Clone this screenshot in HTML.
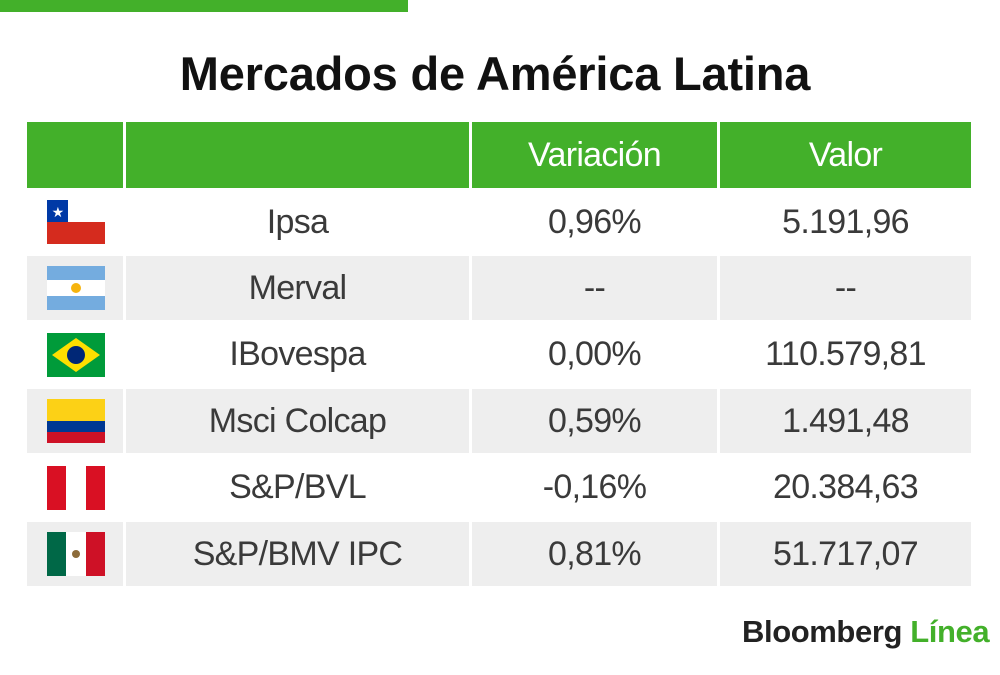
<!DOCTYPE html>
<html><head><meta charset="utf-8"><style>
body{margin:0;width:1000px;height:675px;background:#fff;position:relative;overflow:hidden;font-family:"Liberation Sans",sans-serif}
.a{position:absolute}
.c{position:absolute;display:flex;align-items:center;justify-content:center;font-size:34px;color:#3a3a3a;letter-spacing:-0.7px}
.h{background:#43b02a;color:#fff}
.g{background:#eeeeee}
</style></head><body>
<div class="a" style="left:0;top:0;width:408px;height:12px;background:#43b02a"></div>
<div class="a" style="left:0;width:990px;top:46px;text-align:center;font-size:47px;font-weight:bold;letter-spacing:-0.2px;color:#111">Mercados de América Latina</div>
<div id="t"></div>
<div class="a" style="left:742px;top:614px;font-size:31px;font-weight:bold;letter-spacing:-0.4px;color:#222">Bloomberg <span style="color:#43b02a">Línea</span></div>
<script>
const names=["Ipsa","Merval","IBovespa","Msci Colcap","S&P/BVL","S&P/BMV IPC"];
const variations=["0,96%","--","0,00%","0,59%","-0,16%","0,81%"];
const values=["5.191,96","--","110.579,81","1.491,48","20.384,63","51.717,07"];
const flags=[
'<rect width="58" height="44" fill="#d52b1e"/><rect width="58" height="22" fill="#fff"/><rect width="21" height="22" fill="#0039a6"/><text x="10.5" y="17" font-size="14" fill="#fff" text-anchor="middle">★</text>',
'<rect width="58" height="44" fill="#fff"/><rect width="58" height="14" fill="#74acdf"/><rect y="30" width="58" height="14" fill="#74acdf"/><circle cx="29" cy="22" r="5" fill="#f6b40e"/>',
'<rect width="58" height="44" fill="#009b3a"/><polygon points="29,5 53,22 29,39 5,22" fill="#fedf00"/><circle cx="29" cy="22" r="9" fill="#002776"/>',
'<rect width="58" height="44" fill="#ce1126"/><rect width="58" height="33" fill="#003893"/><rect width="58" height="22" fill="#fcd116"/>',
'<rect width="58" height="44" fill="#d91023"/><rect x="19" width="20" height="44" fill="#fff"/>',
'<rect width="58" height="44" fill="#ce1126"/><rect width="39" height="44" fill="#fff"/><rect width="19" height="44" fill="#006847"/><circle cx="29" cy="22" r="4" fill="#8c6b3a"/>'
];
const cols=[[27,96],[126,343],[472,245],[720,251]];
const t=document.getElementById('t');
function cell(x,y,w,h,cls,txt,name){const d=document.createElement('div');d.className='c '+cls;d.style.cssText=`left:${x}px;top:${y}px;width:${w}px;height:${h}px`;d.innerHTML=txt;


t.appendChild(d);}
cell(cols[0][0],122,cols[0][1],66,'h','','header-flag');
cell(cols[1][0],122,cols[1][1],66,'h','','header-index');
cell(cols[2][0],122,cols[2][1],66,'h','Variación','header-variation');
cell(cols[3][0],122,cols[3][1],66,'h','Valor','header-value');
names.forEach((n,i)=>{const y=190+i*66.4,cls=i%2?'g':'';
cell(cols[0][0],y,cols[0][1],64,cls,'<svg width="58" height="44" viewBox="0 0 58 44" style="margin-left:2px">'+flags[i]+'</svg>','flag-'+i);
cell(cols[1][0],y,cols[1][1],64,cls,n.replace('&','&amp;'),'index-name');
cell(cols[2][0],y,cols[2][1],64,cls,variations[i],'variation-value');
cell(cols[3][0],y,cols[3][1],64,cls,values[i],'index-value');});
</script>
</body></html>
